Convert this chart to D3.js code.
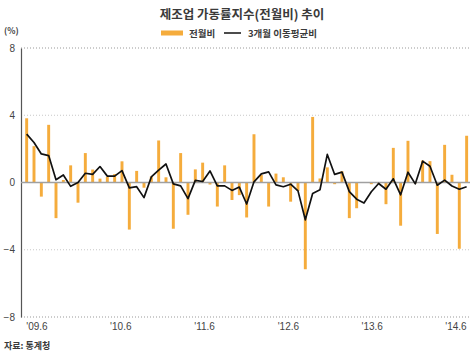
<!DOCTYPE html>
<html><head><meta charset="utf-8">
<script src="https://cdn.jsdelivr.net/npm/d3@7"></script>
<style>body{margin:0;background:#fff;} svg{display:block;font-family:"Noto Sans CJK KR","Noto Sans",sans-serif;}</style>
</head><body>
<svg id="c" width="474" height="354"></svg>
<script>
const title = "제조업 가동률지수(전월비) 추이";
const seriesNames = ["전월비", "3개월 이동평균비"];
const yTicks = [-8, -4, 0, 4, 8];
const xTickLabels = ["'09.6", "'10.6", "'11.6", "'12.6", "'13.6", "'14.6"];
// months 2009.6 .. 2014.6
const months = [];
for (let yr = 2009; yr <= 2014; yr++) for (let m = 1; m <= 12; m++) {
  if ((yr === 2009 && m < 6) || (yr === 2014 && m > 6)) continue;
  months.push(yr + "." + m);
}
const monthly = [3.82,2.16,-0.84,3.43,-2.12,0.15,1.02,-1.2,1.75,0.77,0.23,0.33,0.5,1.26,-2.8,0.69,-0.31,0.36,2.5,0.31,
  -2.75,1.75,-1.92,0.78,1.18,-0.12,-1.43,1.02,-1.04,-0.75,-2.08,2.87,0.45,-1.43,0.53,0.31,-1.14,-0.5,-5.16,3.9,
  0.24,0.9,-0.1,0.67,-2.12,-1.53,0.03,-0.1,-0.08,-1.29,2.06,-2.57,2.48,-0.05,1.31,1.27,-3.06,2.24,0.46,-3.94,2.78];
const movingAvg = [2.88,2.38,1.7,1.6,0.16,0.45,-0.23,0.0,0.55,0.48,0.95,0.38,0.38,0.71,-0.32,-0.25,-0.9,0.33,0.74,1.1,
  -0.08,-0.2,-0.96,0.13,0.06,0.69,-0.2,-0.2,-0.47,-0.27,-1.28,0.04,0.51,0.63,-0.14,-0.25,-0.1,-0.5,-2.22,-0.65,
  -0.43,1.67,0.48,0.62,-0.54,-0.99,-1.22,-0.55,-0.06,-0.4,0.22,-0.73,0.61,-0.08,1.27,0.97,-0.16,0.14,-0.21,-0.4,-0.25];

(function(){
const svg = d3.select("#c");
const orange = "#F5AC3C";
const pLeft = 21, pRight = 470, pTop = 48, pBottom = 317;

const x = d3.scaleBand().domain(months).range([23, 470.3]).paddingInner(0.6).paddingOuter(0.3);
const y = d3.scaleLinear().domain([-8, 8]).range([pBottom, pTop]);
const xl = d3.scalePoint().domain(xTickLabels).range([37, 456]);

svg.append("text").attr("x", 242).attr("y", 19).attr("text-anchor", "middle")
  .attr("font-size", 12.5).attr("font-weight", "bold").attr("fill", "#3a3a3a").text(title);

svg.append("text").attr("x", 4).attr("y", 34).attr("font-size", 8.5).attr("font-weight", "bold")
  .attr("fill", "#444").text("(%)");

const lg = svg.append("g");
lg.append("rect").attr("x", 161).attr("y", 30.5).attr("width", 22).attr("height", 5).attr("fill", orange);
lg.append("text").attr("x", 189).attr("y", 36.5).attr("font-size", 9.5).attr("font-weight", "bold").attr("fill", "#3a3a3a").text(seriesNames[0]);
lg.append("line").attr("x1", 224).attr("x2", 241).attr("y1", 33).attr("y2", 33).attr("stroke", "#111").attr("stroke-width", 1.5);
lg.append("text").attr("x", 248).attr("y", 36.5).attr("font-size", 9.5).attr("font-weight", "bold").attr("fill", "#3a3a3a").text(seriesNames[1]);

svg.append("g").selectAll("line").data(yTicks.filter(d => d !== 0)).join("line")
  .attr("x1", pLeft).attr("x2", pRight).attr("y1", d => y(d)).attr("y2", d => y(d))
  .attr("stroke", d => Math.abs(d) === 8 ? "#999" : "#c8c8c8")
  .attr("stroke-width", 1).attr("stroke-dasharray", "1,2");

const yAxis = d3.axisLeft(y).tickValues(yTicks).tickSize(0).tickPadding(6).tickFormat(d => d < 0 ? "\u2212" + Math.abs(d) : d);
const ya = svg.append("g").attr("transform", `translate(${pLeft},0)`).call(yAxis);
ya.select(".domain").attr("stroke", "#555").attr("stroke-width", 1.2);
ya.selectAll("text").attr("font-size", 10).attr("fill", "#444").attr("font-family", "Liberation Sans, Arial, sans-serif");

svg.append("g").selectAll("rect").data(monthly).join("rect")
  .attr("x", (d, i) => x(months[i]))
  .attr("width", x.bandwidth())
  .attr("y", d => y(Math.max(0, d)))
  .attr("height", d => Math.abs(y(d) - y(0)))
  .attr("fill", orange);

svg.append("line").attr("x1", pLeft).attr("x2", pRight).attr("y1", y(0)).attr("y2", y(0))
  .attr("stroke", "#a0a0a0").attr("stroke-width", 1.5);

const line = d3.line().x((d, i) => x(months[i]) + x.bandwidth() / 2).y(d => y(d));
svg.append("path").datum(movingAvg).attr("d", line).attr("fill", "none")
  .attr("stroke", "#111").attr("stroke-width", 1.7).attr("stroke-linejoin", "round");

svg.append("g").selectAll("text").data(xTickLabels).join("text")
  .attr("x", d => xl(d)).attr("y", 330).attr("text-anchor", "middle")
  .attr("font-size", 10).attr("fill", "#444").attr("font-family", "Liberation Sans, Arial, sans-serif").text(d => d);

svg.append("text").attr("x", 4).attr("y", 349).attr("font-size", 9).attr("font-weight", "bold")
  .attr("fill", "#3a3a3a").text("자료: 통계청");
})();
</script>
</body></html>
